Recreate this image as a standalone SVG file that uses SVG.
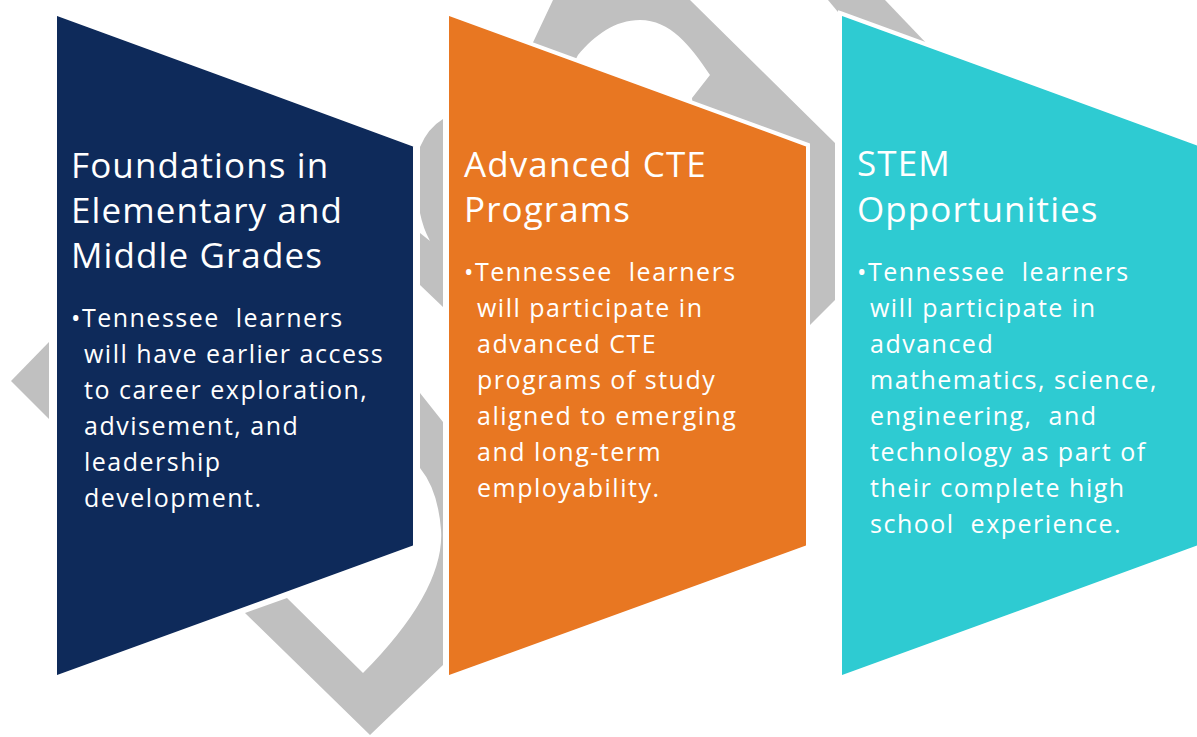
<svg xmlns="http://www.w3.org/2000/svg" width="1197" height="737" viewBox="0 0 1197 737">
<style>
.bg{fill:#c0c0c0}
.pent{stroke:#fff;stroke-width:4;stroke-linejoin:miter}
.title{font-family:"Open Sans","Liberation Sans",sans-serif;font-size:35px;letter-spacing:1.1px;fill:#fff}
.body{font-family:"Open Sans","Liberation Sans",sans-serif;font-size:25px;letter-spacing:1.5px;fill:#fff;white-space:pre}
</style>
<rect width="1197" height="737" fill="#fff"/>
<g id="background">
<polygon class="bg" points="11,381 49,342 49,419"/>
<path class="bg" d="M443,119 L443,307 L420,285 L420,233 L430,241 Q423,228 420,213 L420,147 Q428,128 443,119 Z"/>
<path class="bg" d="M420,393 L443,422 L443,665 L370,735 L245,613 L287,598 L363,673 Q445,590 441,530 Q438,490 420,468 Z"/>
<path class="bg" d="M520,70 L553,0 L690,0 L835,143 L835,300 L810,325 L700,200 L692,98 L710,75 C690,45 670,20 640,20 C615,20 595,35 578,55 L560,90 Z"/>
<polygon class="bg" points="828,0 885,0 928,45 838,12"/>
</g>
<g id="node-foundations">
<polygon class="pent" fill="#0e2a5a" points="55,13 415,145 415,547 55,678"/>
<text class="title" x="71" y="178">Foundations in</text>
<text class="title" x="71" y="223">Elementary and</text>
<text class="title" x="71" y="268">Middle Grades</text>
<text class="body" x="71" y="327">•Tennessee  learners</text>
<text class="body" x="84" y="363">will have earlier access</text>
<text class="body" x="84" y="399">to career exploration,</text>
<text class="body" x="84" y="435">advisement, and</text>
<text class="body" x="84" y="471">leadership</text>
<text class="body" x="84" y="507">development.</text>
</g>
<g id="node-cte">
<polygon class="pent" fill="#e87722" points="447,13 808,145 808,547 447,678"/>
<text class="title" x="464" y="177">Advanced CTE</text>
<text class="title" x="464" y="222">Programs</text>
<text class="body" x="464" y="281">•Tennessee  learners</text>
<text class="body" x="477" y="317">will participate in</text>
<text class="body" x="477" y="353">advanced CTE</text>
<text class="body" x="477" y="389">programs of study</text>
<text class="body" x="477" y="425">aligned to emerging</text>
<text class="body" x="477" y="461">and long-term</text>
<text class="body" x="477" y="497">employability.</text>
</g>
<g id="node-stem">
<polygon class="pent" fill="#2ecbd2" points="840,13 1199,144 1199,547 840,678"/>
<text class="title" x="857" y="176">STEM</text>
<text class="title" x="857" y="222">Opportunities</text>
<text class="body" x="857" y="281">•Tennessee  learners</text>
<text class="body" x="870" y="317">will participate in</text>
<text class="body" x="870" y="353">advanced</text>
<text class="body" x="870" y="389">mathematics, science,</text>
<text class="body" x="870" y="425">engineering,  and</text>
<text class="body" x="870" y="461">technology as part of</text>
<text class="body" x="870" y="497">their complete high</text>
<text class="body" x="870" y="533">school  experience.</text>
</g>
<g id="connectors"></g>
</svg>
